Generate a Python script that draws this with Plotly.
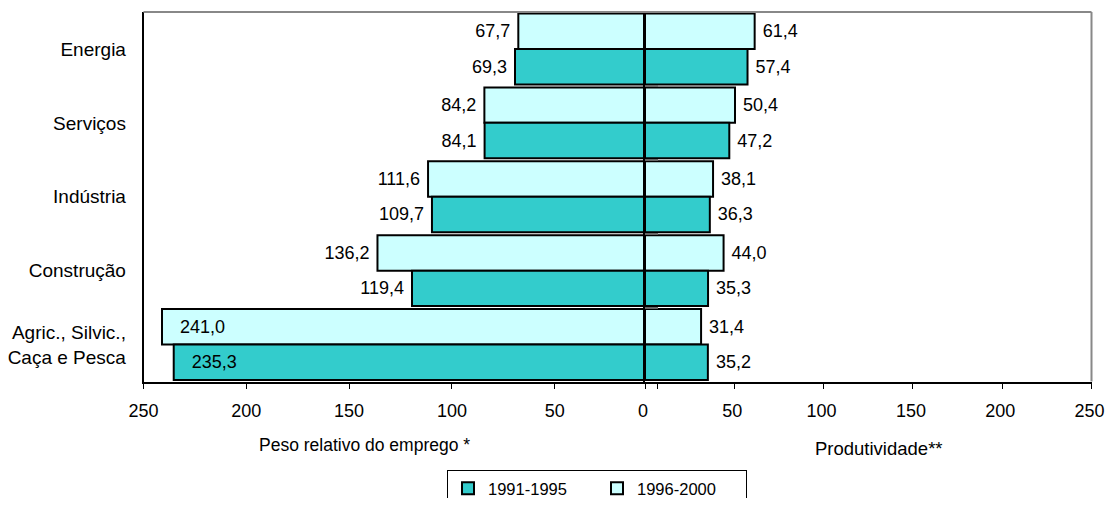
import plotly.graph_objects as go

categories = ["Energia", "Serviços", "Indústria", "Construção", "Agric., Silvic.,<br>Caça e Pesca"]
series_names = ["1991-1995", "1996-2000"]

emprego_1991_1995 = [69.3, 84.1, 109.7, 119.4, 235.3]
emprego_1996_2000 = [67.7, 84.2, 111.6, 136.2, 241.0]
produt_1991_1995 = [57.4, 47.2, 36.3, 35.3, 35.2]
produt_1996_2000 = [61.4, 50.4, 38.1, 44.0, 31.4]

left_ticks = [250, 200, 150, 100, 50, 0]
left_ticktext = ["250", "200", "150", "100", "50", ""]
right_ticks = [0, 50, 100, 150, 200, 250]

DARK = "#33CCCC"
LIGHT = "#CCFFFF"
FONT = "Arial, Liberation Sans, sans-serif"
NB = "\u00a0"

# page body has an 8px margin; figure sized so the page fits the window
OFF = 8
W, H = 1113 - 2 * OFF, 506 - 2 * OFF


def px(X):
    return (X - OFF) / W


def py(Y):
    return (H - (Y - OFF)) / H


x_left = (px(143.5), px(657.5))
x_right = (px(645), px(1091.5))
y_dom = (py(381.5), py(12))

fig = go.Figure()


def left_text(vals, limit):
    pos = ["inside" if v > limit else "outside" for v in vals]
    tmpl = [(NB * 3 + "%{x:.1f}") if v > limit else ("%{x:.1f}" + NB) for v in vals]
    return pos, tmpl


lp96, lt96 = left_text(emprego_1996_2000, 200)
lp91, lt91 = left_text(emprego_1991_1995, 200)

label_font = dict(size=18, color="black", family=FONT)

# Left side (Peso relativo do emprego)
fig.add_trace(go.Bar(
    y=categories, x=emprego_1996_2000, orientation="h", name=series_names[1],
    marker=dict(color=LIGHT, line=dict(color="black", width=2)),
    texttemplate=lt96, textposition=lp96,
    insidetextanchor="end", textfont=label_font,
    cliponaxis=False, xaxis="x", yaxis="y", legendrank=2, showlegend=True,
))
fig.add_trace(go.Bar(
    y=categories, x=emprego_1991_1995, orientation="h", name=series_names[0],
    marker=dict(color=DARK, line=dict(color="black", width=2)),
    texttemplate=lt91, textposition=lp91,
    insidetextanchor="end", textfont=label_font,
    cliponaxis=False, xaxis="x", yaxis="y", legendrank=1, showlegend=True,
))
# Right side (Produtividade)
fig.add_trace(go.Bar(
    y=categories, x=produt_1996_2000, orientation="h", name=series_names[1],
    marker=dict(color=LIGHT, line=dict(color="black", width=2)),
    texttemplate=NB + "%{x:.1f}", textposition="outside",
    textfont=label_font,
    cliponaxis=False, xaxis="x2", yaxis="y2", showlegend=False,
))
fig.add_trace(go.Bar(
    y=categories, x=produt_1991_1995, orientation="h", name=series_names[0],
    marker=dict(color=DARK, line=dict(color="black", width=2)),
    texttemplate=NB + "%{x:.1f}", textposition="outside",
    textfont=label_font,
    cliponaxis=False, xaxis="x2", yaxis="y2", showlegend=False,
))

axis_font = dict(size=18, color="black", family=FONT)

fig.update_layout(
    template="none",
    width=W, height=H, autosize=False,
    margin=dict(l=0, r=0, t=0, b=0, pad=0, autoexpand=False),
    paper_bgcolor="white", plot_bgcolor="rgba(0,0,0,0)",
    separators=",.",
    barmode="group", bargap=0.04, bargroupgap=0,
    font=dict(family=FONT, color="black"),
    xaxis=dict(
        domain=list(x_left), range=[250, 0], anchor="y", automargin=False,
        tickvals=left_ticks, ticktext=left_ticktext,
        ticks="outside", ticklen=6, tickcolor="black", tickwidth=1,
        showline=True, linecolor="black", linewidth=1.5,
        showgrid=False, zeroline=False, tickfont=axis_font,
        ticklabelstandoff=6, ticklabeloverflow="allow",
    ),
    xaxis2=dict(
        domain=list(x_right), range=[0, 250], anchor="y2", automargin=False,
        tickvals=right_ticks,
        ticks="outside", ticklen=6, tickcolor="black", tickwidth=1,
        showline=True, linecolor="black", linewidth=1.5,
        showgrid=False, zeroline=False, tickfont=axis_font,
        ticklabelstandoff=6, ticklabelshift=-2, ticklabeloverflow="allow",
    ),
    yaxis=dict(
        domain=list(y_dom), anchor="x", autorange="reversed", automargin=False,
        categoryorder="array", categoryarray=categories,
        showline=True, linecolor="black", linewidth=1.5,
        ticks="", showgrid=False, zeroline=False,
        tickfont=dict(size=19, color="black", family=FONT),
        ticklabelstandoff=12, ticklabeloverflow="allow",
    ),
    yaxis2=dict(
        domain=list(y_dom), anchor="x2", autorange="reversed", automargin=False,
        categoryorder="array", categoryarray=categories,
        showline=True, linecolor="black", linewidth=2,
        ticks="inside", ticklen=13, tickcolor="#666666", tickwidth=2,
        tickson="boundaries",
        showticklabels=False, showgrid=False, zeroline=False,
    ),
    legend=dict(
        orientation="h", x=px(447), xanchor="left",
        y=py(470), yanchor="top",
        bordercolor="black", borderwidth=1, bgcolor="white",
        font=dict(size=16.5, color="black", family=FONT),
        entrywidth=104, entrywidthmode="pixels",
        traceorder="normal",
    ),
    shapes=[
        dict(type="line", xref="paper", yref="paper",
             x0=px(143.5), x1=px(1091.5), y0=y_dom[1], y1=y_dom[1],
             line=dict(color="#888888", width=2)),
        dict(type="line", xref="paper", yref="paper",
             x0=px(1091.5), x1=px(1091.5), y0=y_dom[0], y1=y_dom[1],
             line=dict(color="#888888", width=2)),
    ],
    annotations=[
        dict(text="Peso relativo do emprego *", xref="paper", yref="paper",
             x=px(364), y=py(445), showarrow=False,
             xanchor="center", yanchor="middle",
             font=dict(size=17.5, color="black", family=FONT)),
        dict(text="Produtividade**", xref="paper", yref="paper",
             x=px(879), y=py(448), showarrow=False,
             xanchor="center", yanchor="middle",
             font=dict(size=18.5, color="black", family=FONT)),
    ],
)

fig.write_html("out.html")
